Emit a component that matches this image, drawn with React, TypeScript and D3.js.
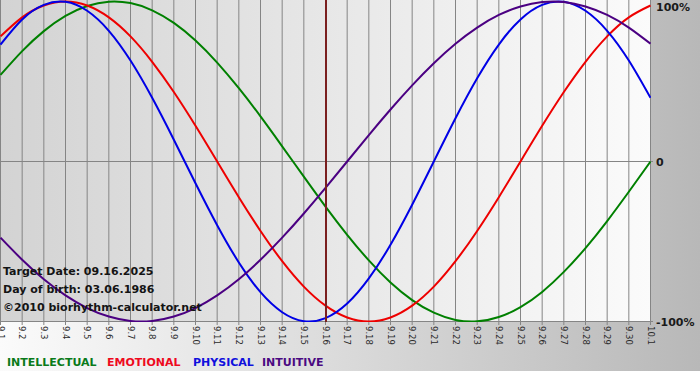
import React from "react";
import * as d3 from "d3";

const dayLabels = ["9.1","9.2","9.3","9.4","9.5","9.6","9.7","9.8","9.9","9.10","9.11","9.12","9.13","9.14","9.15","9.16","9.17","9.18","9.19","9.20","9.21","9.22","9.23","9.24","9.25","9.26","9.27","9.28","9.29","9.30","10.1"];

const physical = [0.731,0.888,0.979,0.998,0.942,0.817,0.631,0.398,0.136,-0.136,-0.398,-0.631,-0.817,-0.942,-0.998,-0.979,-0.888,-0.731,-0.520,-0.270,0,0.270,0.520,0.731,0.888,0.979,0.998,0.942,0.817,0.631,0.398];
const emotional = [0.782,0.901,0.975,1,0.975,0.901,0.782,0.623,0.434,0.223,0,-0.223,-0.434,-0.623,-0.782,-0.901,-0.975,-1,-0.975,-0.901,-0.782,-0.623,-0.434,-0.223,0,0.223,0.434,0.623,0.782,0.901,0.975];
const intellectual = [0.541,0.690,0.815,0.910,0.972,0.999,0.990,0.945,0.866,0.756,0.618,0.458,0.282,0.095,-0.095,-0.282,-0.458,-0.618,-0.756,-0.866,-0.945,-0.990,-0.999,-0.972,-0.910,-0.815,-0.690,-0.541,-0.372,-0.189,0];
const intuitive = [-0.476,-0.614,-0.736,-0.837,-0.916,-0.969,-0.997,-0.997,-0.969,-0.916,-0.837,-0.736,-0.614,-0.476,-0.325,-0.165,0,0.165,0.325,0.476,0.614,0.736,0.837,0.916,0.969,0.997,0.997,0.969,0.916,0.837,0.736];

const yTicks = [1, 0, -1];
const yTickLabels = ["100%", "0", "-100%"];
const targetIndex = 15;
const infoLines = ["Target Date: 09.16.2025", "Day of birth: 03.06.1986", "\u00a92010 biorhythm-calculator.net"];

const seriesList = [
  { name: "INTELLECTUAL", values: intellectual, color: "#008000", legend: "#0a7a1a" },
  { name: "EMOTIONAL", values: emotional, color: "#ee0000", legend: "#ee0a1e" },
  { name: "PHYSICAL", values: physical, color: "#0000e6", legend: "#1010dd" },
  { name: "INTUITIVE", values: intuitive, color: "#4b0082", legend: "#4b0a82" },
];
const legendX = [7, 107, 193, 262];

export default function App() {
  const W = 700, H = 380;
  const x = d3.scaleLinear().domain([0, dayLabels.length - 1]).range([0.5, 650.5]);
  const y = d3.scaleLinear().domain([-1, 1]).range([321.5, 1.5]);
  const line = d3.line<number>().x((_, i) => x(i)).y((v) => y(v)).curve(d3.curveNatural);
  const font = "'DejaVu Sans', Verdana, sans-serif";

  return (
    <svg width={W} height={H} style={{ position: "absolute", left: 0, top: 0 }} fontFamily={font}>
      <defs>
        <linearGradient id="bgGrad" x1="0" x2="1" y1="0" y2="0">
          <stop offset="0" stopColor="#fbfbfb" />
          <stop offset="1" stopColor="#b8b8b8" />
        </linearGradient>
        <linearGradient id="plotGrad" x1="0" x2="1" y1="0" y2="0">
          <stop offset="0" stopColor="#d3d3d3" />
          <stop offset="1" stopColor="#fbfbfb" />
        </linearGradient>
        <clipPath id="plotClip">
          <rect x={0} y={0} width={651} height={322} />
        </clipPath>
      </defs>
      <rect x={0} y={0} width={W} height={H} fill="#ffffff" />
      <rect x={0} y={0} width={W} height={371} fill="url(#bgGrad)" />
      <rect x={0} y={0} width={651} height={322} fill="url(#plotGrad)" />

      {dayLabels.map((lab, i) => (
        <line key={"g" + i} x1={x(i)} x2={x(i)} y1={0} y2={325} stroke="#858585" strokeWidth={1} />
      ))}
      <line x1={0} x2={653} y1={y(0)} y2={y(0)} stroke="#858585" strokeWidth={1} />
      <line x1={0} x2={653} y1={y(-1)} y2={y(-1)} stroke="#858585" strokeWidth={1} />

      <g clipPath="url(#plotClip)">
        {seriesList.map((s) => (
          <path key={s.name} d={line(s.values) || ""} fill="none" stroke={s.color} strokeWidth={2} />
        ))}
      </g>

      <line x1={x(targetIndex) + 0.5} x2={x(targetIndex) + 0.5} y1={0} y2={322} stroke="#7a1f1f" strokeWidth={2} />

      {yTicks.map((v, i) => (
        <text key={"yt" + i} x={656} y={Math.max(7, y(v) + 1)} dy="0.35em" fontSize={11} fontWeight="bold" fill="#1a1a1a">
          {yTickLabels[i]}
        </text>
      ))}

      {dayLabels.map((lab, i) => (
        <text key={"xl" + i} transform={`translate(${x(i)},326) rotate(90)`} dy="0.35em" fontSize={8.5} fill="#2a2a2a">
          {lab}
        </text>
      ))}

      {infoLines.map((t, i) => (
        <text key={"info" + i} x={3} y={275 + i * 18} fontSize={11} fontWeight="bold" fill="#141414">
          {t}
        </text>
      ))}

      {seriesList.map((s, i) => (
        <text key={"lg" + s.name} x={legendX[i]} y={366} fontSize={11} fontWeight="bold" fill={s.legend}>
          {s.name}
        </text>
      ))}
    </svg>
  );
}
